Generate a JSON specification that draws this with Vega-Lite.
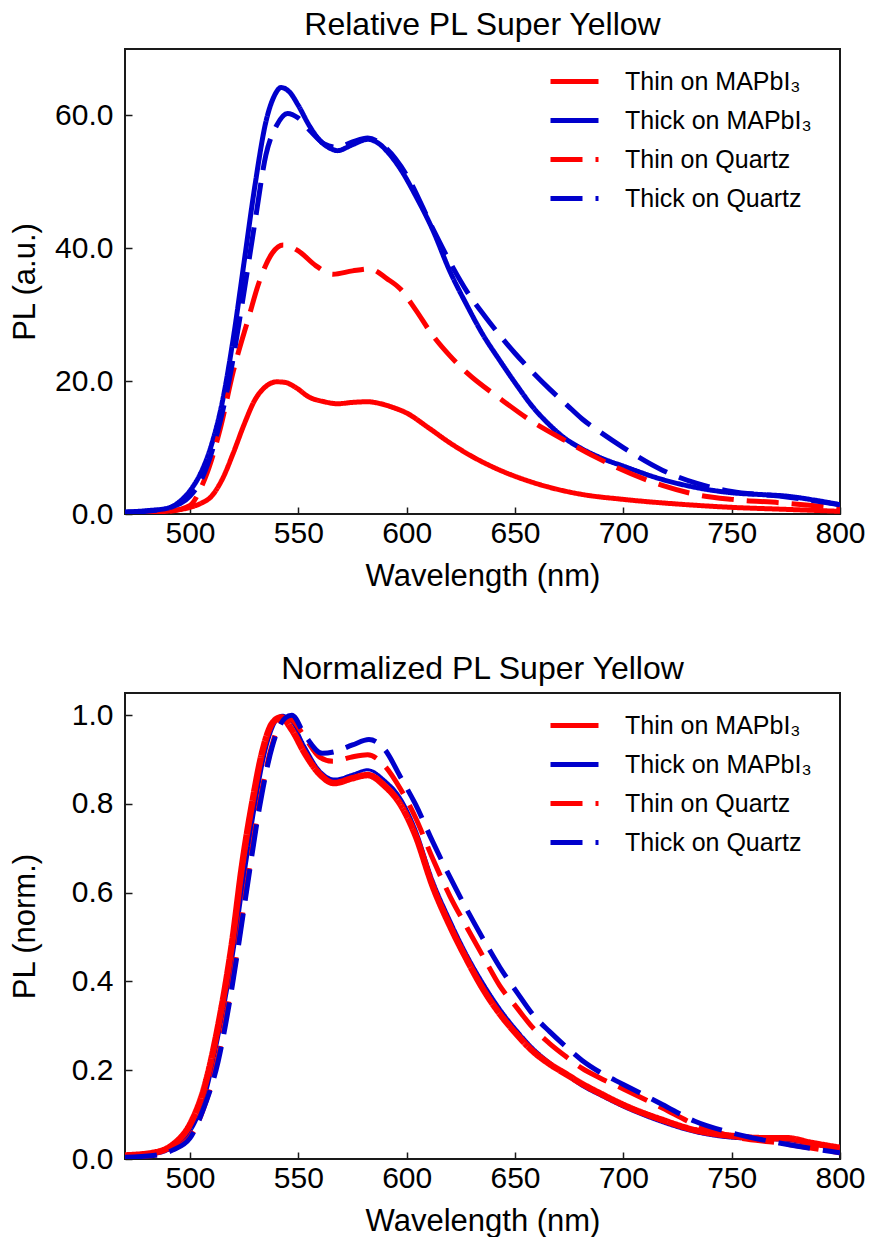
{
  "$schema": "https://vega.github.io/schema/vega-lite/v6.json",
  "padding": {"left": 8, "top": 8, "right": 29, "bottom": 0},
  "background": "white",
  "config": {
    "font": "Liberation Sans",
    "view": {"stroke": "#1a1a1a", "strokeWidth": 2},
    "axis": {"domain": false, "grid": false, "tickSize": -7, "tickColor": "#1a1a1a", "tickWidth": 1.5,
      "labelFont": "Liberation Sans", "labelFontSize": 30, "labelColor": "black", "labelPadding": 11,
      "titleFont": "Liberation Sans", "titleFontSize": 31, "titleFontWeight": "normal", "titleColor": "black", "titlePadding": 13},
    "axisX": {"labelFlush": false, "labelOverlap": false},
    "axisY": {"labelPadding": 19, "titleX": -84, "labelFlush": false},
    "title": {"font": "Liberation Sans", "fontSize": 32, "fontWeight": "normal", "color": "black", "offset": 7},
    "legend": {"orient": "none", "legendX": 432, "legendY": 15, "title": null, "labelFont": "Liberation Sans", "labelFontSize": 25, "labelColor": "black",
      "symbolType": "M-1.6,0H1.6", "symbolSize": 900, "symbolStrokeWidth": 5, "labelOffset": 33, "rowPadding": 8, "padding": 0, "labelLimit": 400}
  },
  "datasets": {
    "rel": [
      {"s": "Thin on MAPbI₃", "x": 470, "y": 0.15}, {"s": "Thin on MAPbI₃", "x": 480, "y": 0.2}, {"s": "Thin on MAPbI₃", "x": 490, "y": 0.45},
      {"s": "Thin on MAPbI₃", "x": 500, "y": 1.0}, {"s": "Thin on MAPbI₃", "x": 505, "y": 1.6}, {"s": "Thin on MAPbI₃", "x": 510, "y": 2.7},
      {"s": "Thin on MAPbI₃", "x": 515, "y": 5.3}, {"s": "Thin on MAPbI₃", "x": 520, "y": 9.2}, {"s": "Thin on MAPbI₃", "x": 525, "y": 13.5},
      {"s": "Thin on MAPbI₃", "x": 530, "y": 17.2}, {"s": "Thin on MAPbI₃", "x": 535, "y": 19.2}, {"s": "Thin on MAPbI₃", "x": 540, "y": 19.9},
      {"s": "Thin on MAPbI₃", "x": 544, "y": 19.8}, {"s": "Thin on MAPbI₃", "x": 549, "y": 19.0}, {"s": "Thin on MAPbI₃", "x": 555, "y": 17.6},
      {"s": "Thin on MAPbI₃", "x": 562, "y": 16.9}, {"s": "Thin on MAPbI₃", "x": 568, "y": 16.6}, {"s": "Thin on MAPbI₃", "x": 575, "y": 16.8},
      {"s": "Thin on MAPbI₃", "x": 582, "y": 16.9}, {"s": "Thin on MAPbI₃", "x": 588, "y": 16.6}, {"s": "Thin on MAPbI₃", "x": 594, "y": 16.0},
      {"s": "Thin on MAPbI₃", "x": 600, "y": 15.2}, {"s": "Thin on MAPbI₃", "x": 610, "y": 13.0}, {"s": "Thin on MAPbI₃", "x": 620, "y": 10.7},
      {"s": "Thin on MAPbI₃", "x": 630, "y": 8.7}, {"s": "Thin on MAPbI₃", "x": 643, "y": 6.6}, {"s": "Thin on MAPbI₃", "x": 655, "y": 5.1},
      {"s": "Thin on MAPbI₃", "x": 665, "y": 4.1}, {"s": "Thin on MAPbI₃", "x": 680, "y": 3.0}, {"s": "Thin on MAPbI₃", "x": 700, "y": 2.2},
      {"s": "Thin on MAPbI₃", "x": 725, "y": 1.5}, {"s": "Thin on MAPbI₃", "x": 750, "y": 1.0}, {"s": "Thin on MAPbI₃", "x": 775, "y": 0.7},
      {"s": "Thin on MAPbI₃", "x": 800, "y": 0.4},

      {"s": "Thick on MAPbI₃", "x": 470, "y": 0.3}, {"s": "Thick on MAPbI₃", "x": 480, "y": 0.5}, {"s": "Thick on MAPbI₃", "x": 490, "y": 0.9},
      {"s": "Thick on MAPbI₃", "x": 495, "y": 1.8}, {"s": "Thick on MAPbI₃", "x": 500, "y": 3.5}, {"s": "Thick on MAPbI₃", "x": 505, "y": 6.2},
      {"s": "Thick on MAPbI₃", "x": 510, "y": 10.5}, {"s": "Thick on MAPbI₃", "x": 515, "y": 17}, {"s": "Thick on MAPbI₃", "x": 520, "y": 26.5},
      {"s": "Thick on MAPbI₃", "x": 525, "y": 38}, {"s": "Thick on MAPbI₃", "x": 530, "y": 49.5}, {"s": "Thick on MAPbI₃", "x": 535, "y": 59},
      {"s": "Thick on MAPbI₃", "x": 539, "y": 63}, {"s": "Thick on MAPbI₃", "x": 542, "y": 64.2}, {"s": "Thick on MAPbI₃", "x": 546, "y": 63.5},
      {"s": "Thick on MAPbI₃", "x": 550, "y": 61.5}, {"s": "Thick on MAPbI₃", "x": 555, "y": 58.5}, {"s": "Thick on MAPbI₃", "x": 560, "y": 56.2},
      {"s": "Thick on MAPbI₃", "x": 565, "y": 55}, {"s": "Thick on MAPbI₃", "x": 568, "y": 54.7}, {"s": "Thick on MAPbI₃", "x": 575, "y": 55.6},
      {"s": "Thick on MAPbI₃", "x": 582, "y": 56.4}, {"s": "Thick on MAPbI₃", "x": 587, "y": 55.8}, {"s": "Thick on MAPbI₃", "x": 592, "y": 54.2},
      {"s": "Thick on MAPbI₃", "x": 597, "y": 52}, {"s": "Thick on MAPbI₃", "x": 604, "y": 48}, {"s": "Thick on MAPbI₃", "x": 612, "y": 42.8},
      {"s": "Thick on MAPbI₃", "x": 620, "y": 36.5}, {"s": "Thick on MAPbI₃", "x": 628, "y": 31.3}, {"s": "Thick on MAPbI₃", "x": 635, "y": 27.1},
      {"s": "Thick on MAPbI₃", "x": 643, "y": 23.1}, {"s": "Thick on MAPbI₃", "x": 651, "y": 19.3}, {"s": "Thick on MAPbI₃", "x": 658, "y": 16.2},
      {"s": "Thick on MAPbI₃", "x": 666, "y": 13.4}, {"s": "Thick on MAPbI₃", "x": 673, "y": 11.4}, {"s": "Thick on MAPbI₃", "x": 681, "y": 9.8},
      {"s": "Thick on MAPbI₃", "x": 690, "y": 8.4}, {"s": "Thick on MAPbI₃", "x": 700, "y": 7.2}, {"s": "Thick on MAPbI₃", "x": 718, "y": 5.2},
      {"s": "Thick on MAPbI₃", "x": 735, "y": 3.9}, {"s": "Thick on MAPbI₃", "x": 750, "y": 3.2}, {"s": "Thick on MAPbI₃", "x": 765, "y": 2.9},
      {"s": "Thick on MAPbI₃", "x": 775, "y": 2.7}, {"s": "Thick on MAPbI₃", "x": 788, "y": 2.1}, {"s": "Thick on MAPbI₃", "x": 800, "y": 1.4},

      {"s": "Thin on Quartz", "x": 470, "y": 0.15}, {"s": "Thin on Quartz", "x": 490, "y": 0.4}, {"s": "Thin on Quartz", "x": 500, "y": 1.3},
      {"s": "Thin on Quartz", "x": 505, "y": 3.9}, {"s": "Thin on Quartz", "x": 510, "y": 8.2}, {"s": "Thin on Quartz", "x": 514, "y": 12.9},
      {"s": "Thin on Quartz", "x": 520, "y": 21.5}, {"s": "Thin on Quartz", "x": 527, "y": 29.5}, {"s": "Thin on Quartz", "x": 532, "y": 35.0},
      {"s": "Thin on Quartz", "x": 538, "y": 39.3}, {"s": "Thin on Quartz", "x": 543, "y": 40.5}, {"s": "Thin on Quartz", "x": 550, "y": 39.6},
      {"s": "Thin on Quartz", "x": 558, "y": 37.4}, {"s": "Thin on Quartz", "x": 566, "y": 36.1}, {"s": "Thin on Quartz", "x": 575, "y": 36.6},
      {"s": "Thin on Quartz", "x": 583, "y": 36.9}, {"s": "Thin on Quartz", "x": 591, "y": 35.4}, {"s": "Thin on Quartz", "x": 597, "y": 33.9},
      {"s": "Thin on Quartz", "x": 604, "y": 30.8}, {"s": "Thin on Quartz", "x": 612, "y": 26.9}, {"s": "Thin on Quartz", "x": 620, "y": 23.8},
      {"s": "Thin on Quartz", "x": 628, "y": 21.2}, {"s": "Thin on Quartz", "x": 643, "y": 17.4}, {"s": "Thin on Quartz", "x": 658, "y": 13.9},
      {"s": "Thin on Quartz", "x": 674, "y": 10.9}, {"s": "Thin on Quartz", "x": 687, "y": 8.6}, {"s": "Thin on Quartz", "x": 697, "y": 7.0},
      {"s": "Thin on Quartz", "x": 718, "y": 4.3}, {"s": "Thin on Quartz", "x": 734, "y": 2.9}, {"s": "Thin on Quartz", "x": 750, "y": 2.2},
      {"s": "Thin on Quartz", "x": 772, "y": 1.7}, {"s": "Thin on Quartz", "x": 800, "y": 0.9},

      {"s": "Thick on Quartz", "x": 470, "y": 0.25}, {"s": "Thick on Quartz", "x": 480, "y": 0.4}, {"s": "Thick on Quartz", "x": 490, "y": 0.9},
      {"s": "Thick on Quartz", "x": 500, "y": 2.7}, {"s": "Thick on Quartz", "x": 505, "y": 5}, {"s": "Thick on Quartz", "x": 512, "y": 11.5},
      {"s": "Thick on Quartz", "x": 518, "y": 20}, {"s": "Thick on Quartz", "x": 524, "y": 31.5}, {"s": "Thick on Quartz", "x": 530, "y": 44},
      {"s": "Thick on Quartz", "x": 535, "y": 54}, {"s": "Thick on Quartz", "x": 540, "y": 58.5}, {"s": "Thick on Quartz", "x": 545, "y": 60.3},
      {"s": "Thick on Quartz", "x": 550, "y": 59.6}, {"s": "Thick on Quartz", "x": 556, "y": 57.5}, {"s": "Thick on Quartz", "x": 562, "y": 55.7},
      {"s": "Thick on Quartz", "x": 568, "y": 55.2}, {"s": "Thick on Quartz", "x": 575, "y": 56}, {"s": "Thick on Quartz", "x": 582, "y": 56.6},
      {"s": "Thick on Quartz", "x": 590, "y": 55.2}, {"s": "Thick on Quartz", "x": 600, "y": 51}, {"s": "Thick on Quartz", "x": 612, "y": 43},
      {"s": "Thick on Quartz", "x": 620, "y": 37.9}, {"s": "Thick on Quartz", "x": 628, "y": 33.4}, {"s": "Thick on Quartz", "x": 636, "y": 29.8},
      {"s": "Thick on Quartz", "x": 643, "y": 26.9}, {"s": "Thick on Quartz", "x": 650, "y": 24.2}, {"s": "Thick on Quartz", "x": 658, "y": 21.4},
      {"s": "Thick on Quartz", "x": 666, "y": 18.8}, {"s": "Thick on Quartz", "x": 674, "y": 16.4}, {"s": "Thick on Quartz", "x": 681, "y": 14.3},
      {"s": "Thick on Quartz", "x": 689, "y": 12.4}, {"s": "Thick on Quartz", "x": 700, "y": 10.0}, {"s": "Thick on Quartz", "x": 718, "y": 6.6},
      {"s": "Thick on Quartz", "x": 734, "y": 4.6}, {"s": "Thick on Quartz", "x": 750, "y": 3.4}, {"s": "Thick on Quartz", "x": 772, "y": 2.7},
      {"s": "Thick on Quartz", "x": 800, "y": 1.4}
    ],
    "norm": [
      {"s": "Thick on MAPbI₃", "x": 470, "y": 0.005}, {"s": "Thick on MAPbI₃", "x": 483, "y": 0.01}, {"s": "Thick on MAPbI₃", "x": 492, "y": 0.025},
      {"s": "Thick on MAPbI₃", "x": 500, "y": 0.06}, {"s": "Thick on MAPbI₃", "x": 507, "y": 0.14}, {"s": "Thick on MAPbI₃", "x": 513, "y": 0.27},
      {"s": "Thick on MAPbI₃", "x": 520, "y": 0.46}, {"s": "Thick on MAPbI₃", "x": 525, "y": 0.63}, {"s": "Thick on MAPbI₃", "x": 530, "y": 0.79},
      {"s": "Thick on MAPbI₃", "x": 535, "y": 0.92}, {"s": "Thick on MAPbI₃", "x": 539, "y": 0.98}, {"s": "Thick on MAPbI₃", "x": 542.5, "y": 1.0},
      {"s": "Thick on MAPbI₃", "x": 547, "y": 0.985}, {"s": "Thick on MAPbI₃", "x": 553, "y": 0.93}, {"s": "Thick on MAPbI₃", "x": 560, "y": 0.875},
      {"s": "Thick on MAPbI₃", "x": 567, "y": 0.856}, {"s": "Thick on MAPbI₃", "x": 575, "y": 0.867}, {"s": "Thick on MAPbI₃", "x": 582, "y": 0.877},
      {"s": "Thick on MAPbI₃", "x": 590, "y": 0.853}, {"s": "Thick on MAPbI₃", "x": 597, "y": 0.815}, {"s": "Thick on MAPbI₃", "x": 604, "y": 0.745},
      {"s": "Thick on MAPbI₃", "x": 612, "y": 0.63}, {"s": "Thick on MAPbI₃", "x": 620, "y": 0.54}, {"s": "Thick on MAPbI₃", "x": 628, "y": 0.46},
      {"s": "Thick on MAPbI₃", "x": 635, "y": 0.4}, {"s": "Thick on MAPbI₃", "x": 643, "y": 0.34}, {"s": "Thick on MAPbI₃", "x": 651, "y": 0.29},
      {"s": "Thick on MAPbI₃", "x": 658, "y": 0.252}, {"s": "Thick on MAPbI₃", "x": 666, "y": 0.218}, {"s": "Thick on MAPbI₃", "x": 674, "y": 0.188},
      {"s": "Thick on MAPbI₃", "x": 680, "y": 0.167}, {"s": "Thick on MAPbI₃", "x": 690, "y": 0.141}, {"s": "Thick on MAPbI₃", "x": 700, "y": 0.117},
      {"s": "Thick on MAPbI₃", "x": 718, "y": 0.082}, {"s": "Thick on MAPbI₃", "x": 733, "y": 0.06}, {"s": "Thick on MAPbI₃", "x": 750, "y": 0.047},
      {"s": "Thick on MAPbI₃", "x": 764, "y": 0.044}, {"s": "Thick on MAPbI₃", "x": 775, "y": 0.042}, {"s": "Thick on MAPbI₃", "x": 787, "y": 0.033},
      {"s": "Thick on MAPbI₃", "x": 800, "y": 0.022},

      {"s": "Thin on MAPbI₃", "x": 470, "y": 0.008}, {"s": "Thin on MAPbI₃", "x": 483, "y": 0.014}, {"s": "Thin on MAPbI₃", "x": 492, "y": 0.032},
      {"s": "Thin on MAPbI₃", "x": 500, "y": 0.078}, {"s": "Thin on MAPbI₃", "x": 507, "y": 0.168}, {"s": "Thin on MAPbI₃", "x": 513, "y": 0.30},
      {"s": "Thin on MAPbI₃", "x": 519.5, "y": 0.49}, {"s": "Thin on MAPbI₃", "x": 524, "y": 0.66}, {"s": "Thin on MAPbI₃", "x": 529, "y": 0.81},
      {"s": "Thin on MAPbI₃", "x": 533.5, "y": 0.92}, {"s": "Thin on MAPbI₃", "x": 538, "y": 0.982}, {"s": "Thin on MAPbI₃", "x": 542, "y": 0.995},
      {"s": "Thin on MAPbI₃", "x": 547, "y": 0.967}, {"s": "Thin on MAPbI₃", "x": 553, "y": 0.914}, {"s": "Thin on MAPbI₃", "x": 559.5, "y": 0.869},
      {"s": "Thin on MAPbI₃", "x": 566.5, "y": 0.847}, {"s": "Thin on MAPbI₃", "x": 575, "y": 0.858}, {"s": "Thin on MAPbI₃", "x": 582, "y": 0.865},
      {"s": "Thin on MAPbI₃", "x": 590, "y": 0.84}, {"s": "Thin on MAPbI₃", "x": 597, "y": 0.8}, {"s": "Thin on MAPbI₃", "x": 604, "y": 0.73},
      {"s": "Thin on MAPbI₃", "x": 612, "y": 0.615}, {"s": "Thin on MAPbI₃", "x": 620, "y": 0.525}, {"s": "Thin on MAPbI₃", "x": 628, "y": 0.447},
      {"s": "Thin on MAPbI₃", "x": 635, "y": 0.385}, {"s": "Thin on MAPbI₃", "x": 643, "y": 0.327}, {"s": "Thin on MAPbI₃", "x": 651, "y": 0.28},
      {"s": "Thin on MAPbI₃", "x": 658, "y": 0.244}, {"s": "Thin on MAPbI₃", "x": 666, "y": 0.214}, {"s": "Thin on MAPbI₃", "x": 674, "y": 0.19},
      {"s": "Thin on MAPbI₃", "x": 680, "y": 0.172}, {"s": "Thin on MAPbI₃", "x": 690, "y": 0.146}, {"s": "Thin on MAPbI₃", "x": 700, "y": 0.122},
      {"s": "Thin on MAPbI₃", "x": 718, "y": 0.088}, {"s": "Thin on MAPbI₃", "x": 733, "y": 0.065}, {"s": "Thin on MAPbI₃", "x": 750, "y": 0.052},
      {"s": "Thin on MAPbI₃", "x": 764, "y": 0.047}, {"s": "Thin on MAPbI₃", "x": 775, "y": 0.047}, {"s": "Thin on MAPbI₃", "x": 787, "y": 0.036},
      {"s": "Thin on MAPbI₃", "x": 800, "y": 0.025},

      {"s": "Thin on Quartz", "x": 470, "y": 0.004}, {"s": "Thin on Quartz", "x": 483, "y": 0.008}, {"s": "Thin on Quartz", "x": 492, "y": 0.022},
      {"s": "Thin on Quartz", "x": 500, "y": 0.05}, {"s": "Thin on Quartz", "x": 506, "y": 0.11}, {"s": "Thin on Quartz", "x": 513, "y": 0.23},
      {"s": "Thin on Quartz", "x": 519.5, "y": 0.40}, {"s": "Thin on Quartz", "x": 525.7, "y": 0.60}, {"s": "Thin on Quartz", "x": 532, "y": 0.80},
      {"s": "Thin on Quartz", "x": 538, "y": 0.935}, {"s": "Thin on Quartz", "x": 543.5, "y": 0.995}, {"s": "Thin on Quartz", "x": 547, "y": 0.99},
      {"s": "Thin on Quartz", "x": 553, "y": 0.95}, {"s": "Thin on Quartz", "x": 560, "y": 0.905}, {"s": "Thin on Quartz", "x": 566, "y": 0.896},
      {"s": "Thin on Quartz", "x": 574, "y": 0.905}, {"s": "Thin on Quartz", "x": 582, "y": 0.911}, {"s": "Thin on Quartz", "x": 590, "y": 0.885},
      {"s": "Thin on Quartz", "x": 597, "y": 0.835}, {"s": "Thin on Quartz", "x": 604, "y": 0.77}, {"s": "Thin on Quartz", "x": 612, "y": 0.677},
      {"s": "Thin on Quartz", "x": 620, "y": 0.592}, {"s": "Thin on Quartz", "x": 628, "y": 0.52}, {"s": "Thin on Quartz", "x": 636, "y": 0.45},
      {"s": "Thin on Quartz", "x": 643, "y": 0.39}, {"s": "Thin on Quartz", "x": 651, "y": 0.34}, {"s": "Thin on Quartz", "x": 658, "y": 0.297},
      {"s": "Thin on Quartz", "x": 666, "y": 0.26}, {"s": "Thin on Quartz", "x": 674, "y": 0.229}, {"s": "Thin on Quartz", "x": 681, "y": 0.204},
      {"s": "Thin on Quartz", "x": 689, "y": 0.183}, {"s": "Thin on Quartz", "x": 700, "y": 0.158}, {"s": "Thin on Quartz", "x": 718, "y": 0.115},
      {"s": "Thin on Quartz", "x": 733, "y": 0.078}, {"s": "Thin on Quartz", "x": 750, "y": 0.051}, {"s": "Thin on Quartz", "x": 772, "y": 0.036},
      {"s": "Thin on Quartz", "x": 800, "y": 0.014},

      {"s": "Thick on Quartz", "x": 470, "y": 0.004}, {"s": "Thick on Quartz", "x": 483, "y": 0.008}, {"s": "Thick on Quartz", "x": 492, "y": 0.02},
      {"s": "Thick on Quartz", "x": 500, "y": 0.047}, {"s": "Thick on Quartz", "x": 506, "y": 0.11}, {"s": "Thick on Quartz", "x": 513, "y": 0.22},
      {"s": "Thick on Quartz", "x": 519.5, "y": 0.39}, {"s": "Thick on Quartz", "x": 525.7, "y": 0.59}, {"s": "Thick on Quartz", "x": 532, "y": 0.79},
      {"s": "Thick on Quartz", "x": 538, "y": 0.93}, {"s": "Thick on Quartz", "x": 544, "y": 0.994}, {"s": "Thick on Quartz", "x": 547, "y": 1.0},
      {"s": "Thick on Quartz", "x": 553, "y": 0.955}, {"s": "Thick on Quartz", "x": 561, "y": 0.914}, {"s": "Thick on Quartz", "x": 567, "y": 0.918},
      {"s": "Thick on Quartz", "x": 575, "y": 0.933}, {"s": "Thick on Quartz", "x": 582.6, "y": 0.945}, {"s": "Thick on Quartz", "x": 590, "y": 0.922},
      {"s": "Thick on Quartz", "x": 597, "y": 0.862}, {"s": "Thick on Quartz", "x": 604, "y": 0.8}, {"s": "Thick on Quartz", "x": 612, "y": 0.715},
      {"s": "Thick on Quartz", "x": 620, "y": 0.635}, {"s": "Thick on Quartz", "x": 628, "y": 0.56}, {"s": "Thick on Quartz", "x": 636, "y": 0.49},
      {"s": "Thick on Quartz", "x": 643, "y": 0.432}, {"s": "Thick on Quartz", "x": 651, "y": 0.375}, {"s": "Thick on Quartz", "x": 658, "y": 0.327},
      {"s": "Thick on Quartz", "x": 666, "y": 0.287}, {"s": "Thick on Quartz", "x": 674, "y": 0.251}, {"s": "Thick on Quartz", "x": 681, "y": 0.222},
      {"s": "Thick on Quartz", "x": 689, "y": 0.196}, {"s": "Thick on Quartz", "x": 700, "y": 0.168}, {"s": "Thick on Quartz", "x": 718, "y": 0.123},
      {"s": "Thick on Quartz", "x": 733, "y": 0.085}, {"s": "Thick on Quartz", "x": 750, "y": 0.059}, {"s": "Thick on Quartz", "x": 772, "y": 0.036},
      {"s": "Thick on Quartz", "x": 800, "y": 0.014}
    ]
  },
  "vconcat": [
    {
      "title": "Relative PL Super Yellow",
      "width": 715, "height": 465,
      "data": {"name": "rel"},
      "mark": {"type": "line", "interpolate": "monotone", "strokeWidth": 5, "clip": true},
      "encoding": {
        "x": {"field": "x", "type": "quantitative", "title": "Wavelength (nm)",
          "scale": {"domain": [470, 800], "nice": false, "zero": false},
          "axis": {"values": [500, 550, 600, 650, 700, 750, 800]}},
        "y": {"field": "y", "type": "quantitative", "title": "PL (a.u.)",
          "scale": {"domain": [0, 70], "nice": false},
          "axis": {"values": [0, 20, 40, 60], "format": ".1f"}},
        "color": {"field": "s", "type": "nominal",
          "scale": {"domain": ["Thin on MAPbI₃", "Thick on MAPbI₃", "Thin on Quartz", "Thick on Quartz"],
            "range": ["#ff0000", "#0000cc", "#ff0000", "#0000cc"]}},
        "strokeDash": {"field": "s", "type": "nominal",
          "scale": {"domain": ["Thin on MAPbI₃", "Thick on MAPbI₃", "Thin on Quartz", "Thick on Quartz"],
            "range": [[1, 0], [1, 0], [32, 13], [32, 13]]}}
      }
    },
    {
      "title": "Normalized PL Super Yellow",
      "width": 715, "height": 466,
      "data": {"name": "norm"},
      "mark": {"type": "line", "interpolate": "monotone", "clip": true},
      "encoding": {
        "x": {"field": "x", "type": "quantitative", "title": "Wavelength (nm)",
          "scale": {"domain": [470, 800], "nice": false, "zero": false},
          "axis": {"values": [500, 550, 600, 650, 700, 750, 800]}},
        "y": {"field": "y", "type": "quantitative", "title": "PL (norm.)",
          "scale": {"domain": [0, 1.05], "nice": false},
          "axis": {"values": [0, 0.2, 0.4, 0.6, 0.8, 1.0], "format": ".1f"}},
        "color": {"field": "s", "type": "nominal",
          "scale": {"domain": ["Thin on MAPbI₃", "Thick on MAPbI₃", "Thin on Quartz", "Thick on Quartz"],
            "range": ["#ff0000", "#0000cc", "#ff0000", "#0000cc"]},
          "legend": {"encode": {"symbols": {"update": {"strokeWidth": {"value": 5}}}}}},
        "strokeDash": {"field": "s", "type": "nominal",
          "scale": {"domain": ["Thin on MAPbI₃", "Thick on MAPbI₃", "Thin on Quartz", "Thick on Quartz"],
            "range": [[1, 0], [1, 0], [32, 13], [32, 13]]}},
        "strokeWidth": {"condition": [{"test": "datum.s === 'Thin on MAPbI₃'", "value": 6.5}, {"test": "datum.s === 'Thick on MAPbI₃'", "value": 3}], "value": 5}
      }
    }
  ],
  "spacing": 60,
  "resolve": {"scale": {"color": "independent", "strokeDash": "independent"}}
}
